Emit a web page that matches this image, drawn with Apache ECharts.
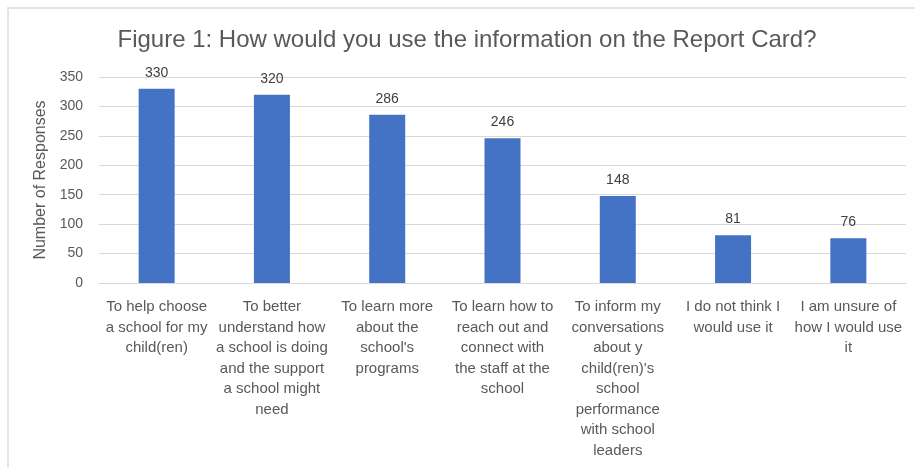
<!DOCTYPE html>
<html>
<head>
<meta charset="utf-8">
<script src="https://cdn.jsdelivr.net/npm/echarts@6/dist/echarts.min.js"></script>
<style>
  html, body { margin: 0; padding: 0; background: #fff; }
  #frame { position: absolute; left: 7px; top: 7px; width: 915px; height: 470px;
           border-left: 2px solid #e4e4e4; border-top: 2px solid #e4e4e4; }
  #chart { position: absolute; left: 0; top: 0; width: 915px; height: 467px; }
</style>
</head>
<body>
<div id="frame"></div>
<div id="chart"></div>
<script>
const categories = [
  "To help choose\na school for my\nchild(ren)",
  "To better\nunderstand how\na school is doing\nand the support\na school might\nneed",
  "To learn more\nabout the\nschool's\nprograms",
  "To learn how to\nreach out and\nconnect with\nthe staff at the\nschool",
  "To inform my\nconversations\nabout y\nchild(ren)'s\nschool\nperformance\nwith school\nleaders",
  "I do not think I\nwould use it",
  "I am unsure of\nhow I would use\nit"
];
const responses = [330, 320, 286, 246, 148, 81, 76];
const yTicks = { min: 0, max: 350, interval: 50 };

const chart = echarts.init(document.getElementById("chart"), null, { renderer: "canvas" });
chart.setOption({
  backgroundColor: "transparent",
  textStyle: { fontFamily: "Liberation Sans, Arial, sans-serif" },
  title: {
    text: "Figure 1: How would you use the information on the Report Card?",
    left: 462,
    textAlign: "center",
    top: 23,
    textStyle: { fontSize: 24, fontWeight: "normal", color: "#595959" }
  },
  grid: { left: 99, right: 9, top: 77, bottom: 184 },
  xAxis: {
    type: "category",
    data: categories,
    axisTick: { show: false },
    axisLine: { lineStyle: { color: "#d9d9d9", width: 1 } },
    axisLabel: {
      interval: 0,
      margin: 14,
      color: "#595959",
      fontSize: 15,
      lineHeight: 20.5,
      align: "center"
    }
  },
  yAxis: {
    type: "value",
    min: yTicks.min,
    max: yTicks.max,
    interval: yTicks.interval,
    name: "Number of Responses",
    nameLocation: "middle",
    nameGap: 42,
    nameTextStyle: { color: "#595959", fontSize: 16 },
    axisLine: { show: false },
    axisTick: { show: false },
    axisLabel: { color: "#595959", fontSize: 14, margin: 16 },
    splitLine: { lineStyle: { color: "#d9d9d9", width: 1 } }
  },
  series: [{
    type: "bar",
    data: responses,
    barWidth: 36,
    itemStyle: { color: "#4472c4" },
    label: {
      show: true,
      position: "top",
      distance: 9,
      color: "#404040",
      fontSize: 14
    }
  }]
});
</script>
</body>
</html>
